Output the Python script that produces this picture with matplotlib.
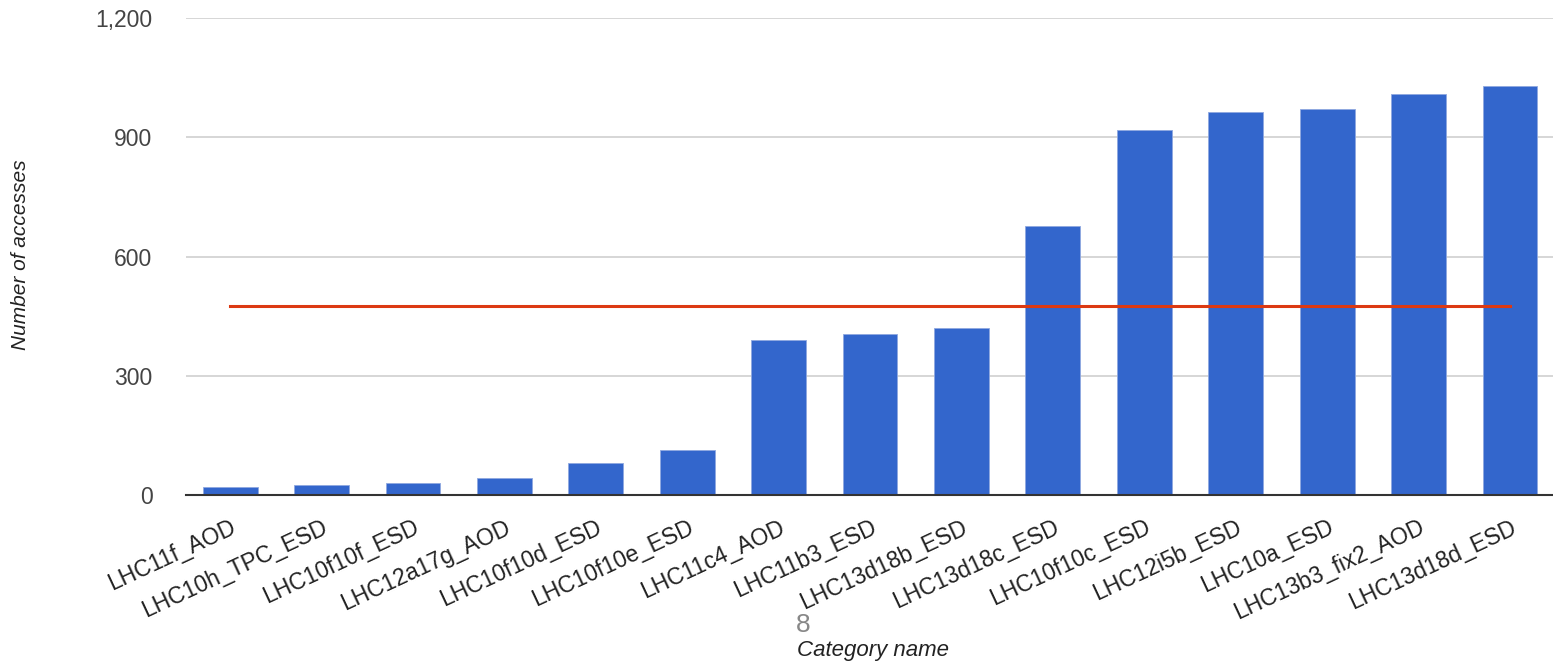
import matplotlib
matplotlib.use("Agg")
import matplotlib.pyplot as plt
from matplotlib.ticker import FuncFormatter

# Data
categories = [
    "LHC11f_AOD", "LHC10h_TPC_ESD", "LHC10f10f_ESD", "LHC12a17g_AOD",
    "LHC10f10d_ESD", "LHC10f10e_ESD", "LHC11c4_AOD", "LHC11b3_ESD",
    "LHC13d18b_ESD", "LHC13d18c_ESD", "LHC10f10c_ESD", "LHC12i5b_ESD",
    "LHC10a_ESD", "LHC13b3_fix2_AOD", "LHC13d18d_ESD",
]
accesses = [19, 24, 31, 42, 80, 113, 391, 406, 421, 677, 918, 963, 971, 1010, 1030]
average = 475
y_ticks = [0, 300, 600, 900, 1200]

plt.rcParams["font.family"] = ["Liberation Sans", "DejaVu Sans"]

fig = plt.figure(figsize=(15.53, 6.65), dpi=100)
ax = fig.add_axes([0.1196, 0.2556, 0.8804, 0.7173])

x = list(range(len(categories)))
ax.bar(x, accesses, width=0.6, color="#3366cc", edgecolor="#8fa8e0", linewidth=0.6, zorder=3)

# average line, from first to last category
ax.plot([x[0], x[-1]], [average, average], color="#dc3912", linewidth=2.2, zorder=4)

ax.set_xlim(-0.485, 14.47)
ax.set_ylim(0, 1200)
ax.set_yticks(y_ticks)
ax.yaxis.set_major_formatter(FuncFormatter(lambda v, p: f"{int(v):,}"))
ax.grid(axis="y", color="#d0d0d0", linewidth=1.2, zorder=0)

for side in ["top", "right", "left"]:
    ax.spines[side].set_visible(False)
ax.spines["bottom"].set_color("#333333")
ax.spines["bottom"].set_linewidth(1.5)
ax.spines["bottom"].set_zorder(5)

ax.tick_params(axis="y", length=0, pad=24, labelsize=16.5, labelcolor="#444444")
ax.tick_params(axis="x", length=0, pad=15, labelsize=16.5, labelcolor="#222222")
ax.set_xticks(x)
ax.set_xticklabels(categories, rotation=25, ha="right", rotation_mode="anchor")

fig.text(0.013, 0.617, "Number of accesses", rotation=90, style="italic",
         fontsize=15, color="#222222", ha="center", va="center")
fig.text(0.562, 0.022, "Category name", style="italic", fontsize=16,
         color="#222222", ha="center", va="center")
fig.text(0.517, 0.06, "8", fontsize=19, color="#888888", ha="center", va="center")

fig.savefig("out.png", dpi=100)
